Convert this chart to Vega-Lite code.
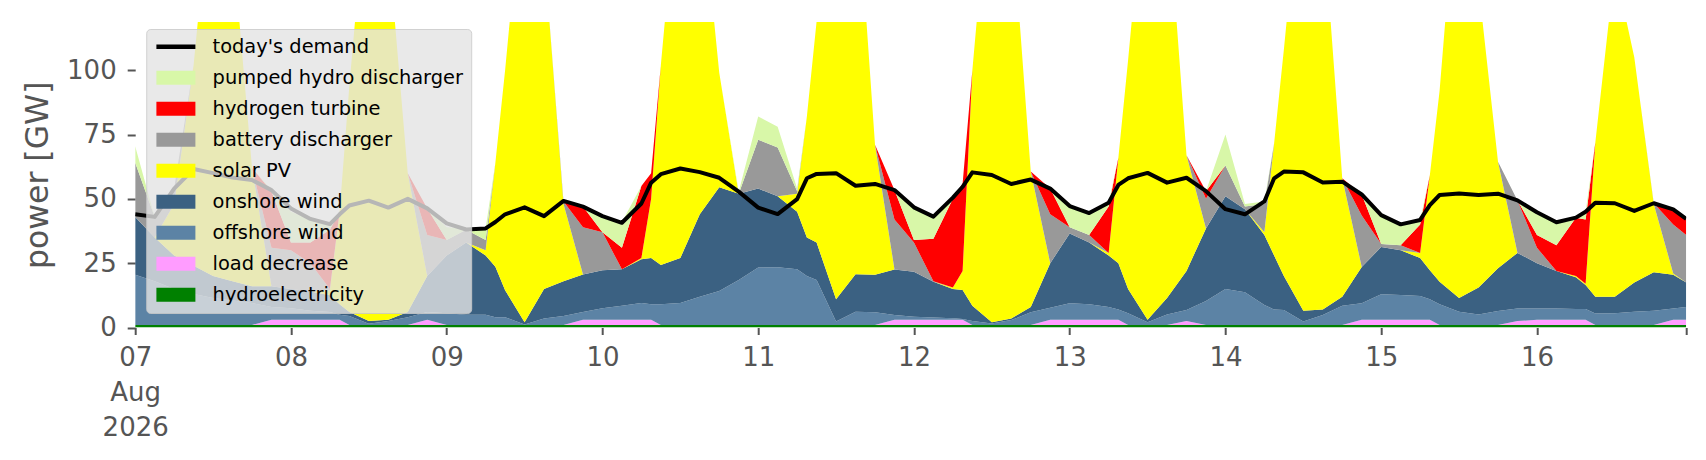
{
  "$schema": "https://vega.github.io/schema/vega-lite/v6.json",
  "description": "Power supply stack vs today's demand, 7-16 Aug 2026",
  "width": 1551,
  "height": 305.5,
  "autosize": "none",
  "padding": {"left": 135.2, "top": 22, "right": 19.8, "bottom": 132.5},
  "background": "white",
  "config": {"view": {"stroke": null}, "font": "DejaVu Sans"},
  "data": {"values": [
    {"t":"2026-08-07T00:00","hydroelectricity":1,"load decrease":0,"offshore wind":19.5,"onshore wind":22.5,"solar PV":0,"battery discharger":21,"hydrogen turbine":0,"pumped hydro discharger":6.5,"demand":44},
    {"t":"2026-08-07T03:00","hydroelectricity":1,"load decrease":0,"offshore wind":17,"onshore wind":17,"solar PV":0,"battery discharger":8,"hydrogen turbine":0,"pumped hydro discharger":0,"demand":43},
    {"t":"2026-08-07T06:00","hydroelectricity":1,"load decrease":0,"offshore wind":14,"onshore wind":13,"solar PV":20,"battery discharger":6,"hydrogen turbine":0,"pumped hydro discharger":0,"demand":54},
    {"t":"2026-08-07T09:00","hydroelectricity":1,"load decrease":0,"offshore wind":12,"onshore wind":11,"solar PV":78,"battery discharger":0,"hydrogen turbine":0,"pumped hydro discharger":0,"demand":61.6},
    {"t":"2026-08-07T12:00","hydroelectricity":1,"load decrease":0,"offshore wind":10.5,"onshore wind":8.5,"solar PV":160,"battery discharger":0,"hydrogen turbine":0,"pumped hydro discharger":0,"demand":60},
    {"t":"2026-08-07T15:00","hydroelectricity":1,"load decrease":0,"offshore wind":9.5,"onshore wind":7.5,"solar PV":132,"battery discharger":0,"hydrogen turbine":0,"pumped hydro discharger":0,"demand":58.3},
    {"t":"2026-08-07T18:00","hydroelectricity":1,"load decrease":0,"offshore wind":8.5,"onshore wind":6.5,"solar PV":46,"battery discharger":0,"hydrogen turbine":0,"pumped hydro discharger":0,"demand":57.3},
    {"t":"2026-08-07T21:00","hydroelectricity":1,"load decrease":2,"offshore wind":5,"onshore wind":8,"solar PV":0,"battery discharger":15,"hydrogen turbine":22,"pumped hydro discharger":0.4,"demand":53.4},
    {"t":"2026-08-08T00:00","hydroelectricity":1,"load decrease":2,"offshore wind":4.5,"onshore wind":7.5,"solar PV":0,"battery discharger":15,"hydrogen turbine":3,"pumped hydro discharger":12,"demand":46.3},
    {"t":"2026-08-08T03:00","hydroelectricity":1,"load decrease":2,"offshore wind":3.5,"onshore wind":7.5,"solar PV":0,"battery discharger":11,"hydrogen turbine":8,"pumped hydro discharger":9,"demand":42.2},
    {"t":"2026-08-08T06:00","hydroelectricity":1,"load decrease":2,"offshore wind":3,"onshore wind":6.5,"solar PV":2,"battery discharger":0.5,"hydrogen turbine":23,"pumped hydro discharger":2,"demand":40.2},
    {"t":"2026-08-08T07:30","hydroelectricity":1,"load decrease":2,"offshore wind":2,"onshore wind":4,"solar PV":36,"battery discharger":0,"hydrogen turbine":0,"pumped hydro discharger":0,"demand":44},
    {"t":"2026-08-08T09:00","hydroelectricity":1,"load decrease":0,"offshore wind":3.5,"onshore wind":1.5,"solar PV":88,"battery discharger":0,"hydrogen turbine":0,"pumped hydro discharger":0,"demand":47.4},
    {"t":"2026-08-08T12:00","hydroelectricity":1,"load decrease":0,"offshore wind":0.5,"onshore wind":1,"solar PV":177.5,"battery discharger":0,"hydrogen turbine":0,"pumped hydro discharger":0,"demand":49.3},
    {"t":"2026-08-08T15:00","hydroelectricity":1,"load decrease":0,"offshore wind":1.5,"onshore wind":0.5,"solar PV":146,"battery discharger":0,"hydrogen turbine":0,"pumped hydro discharger":0,"demand":46.6},
    {"t":"2026-08-08T18:00","hydroelectricity":1,"load decrease":0,"offshore wind":3,"onshore wind":2,"solar PV":54,"battery discharger":0,"hydrogen turbine":0,"pumped hydro discharger":0,"demand":50},
    {"t":"2026-08-08T21:00","hydroelectricity":1,"load decrease":2,"offshore wind":3,"onshore wind":14,"solar PV":0,"battery discharger":16,"hydrogen turbine":10.3,"pumped hydro discharger":0,"demand":46.3},
    {"t":"2026-08-09T00:00","hydroelectricity":1,"load decrease":0,"offshore wind":4.5,"onshore wind":22.5,"solar PV":0,"battery discharger":6,"hydrogen turbine":0,"pumped hydro discharger":5,"demand":40.5},
    {"t":"2026-08-09T03:00","hydroelectricity":1,"load decrease":0,"offshore wind":4,"onshore wind":28,"solar PV":0,"battery discharger":5,"hydrogen turbine":0,"pumped hydro discharger":0.5,"demand":38.1},
    {"t":"2026-08-09T06:00","hydroelectricity":1,"load decrease":0,"offshore wind":4,"onshore wind":23,"solar PV":2,"battery discharger":4,"hydrogen turbine":0,"pumped hydro discharger":4.5,"demand":38.5},
    {"t":"2026-08-09T07:30","hydroelectricity":1,"load decrease":0,"offshore wind":3,"onshore wind":19.6,"solar PV":40.4,"battery discharger":0,"hydrogen turbine":0,"pumped hydro discharger":0,"demand":41},
    {"t":"2026-08-09T09:00","hydroelectricity":1,"load decrease":0,"offshore wind":3,"onshore wind":10.5,"solar PV":85.5,"battery discharger":0,"hydrogen turbine":0,"pumped hydro discharger":0,"demand":44},
    {"t":"2026-08-09T12:00","hydroelectricity":1,"load decrease":0,"offshore wind":0.2,"onshore wind":0.8,"solar PV":178,"battery discharger":0,"hydrogen turbine":0,"pumped hydro discharger":0,"demand":46.7},
    {"t":"2026-08-09T15:00","hydroelectricity":1,"load decrease":0,"offshore wind":2.5,"onshore wind":11.5,"solar PV":131,"battery discharger":0,"hydrogen turbine":0,"pumped hydro discharger":0,"demand":43.3},
    {"t":"2026-08-09T18:00","hydroelectricity":1,"load decrease":0,"offshore wind":3.5,"onshore wind":13.5,"solar PV":30,"battery discharger":1,"hydrogen turbine":0,"pumped hydro discharger":0,"demand":49.2},
    {"t":"2026-08-09T21:00","hydroelectricity":1,"load decrease":2,"offshore wind":3,"onshore wind":14.6,"solar PV":0,"battery discharger":18.4,"hydrogen turbine":8,"pumped hydro discharger":0,"demand":47},
    {"t":"2026-08-10T00:00","hydroelectricity":1,"load decrease":2,"offshore wind":4.5,"onshore wind":14.8,"solar PV":0,"battery discharger":14.7,"hydrogen turbine":0,"pumped hydro discharger":6.3,"demand":43.3},
    {"t":"2026-08-10T03:00","hydroelectricity":1,"load decrease":2,"offshore wind":5.5,"onshore wind":14.1,"solar PV":0,"battery discharger":0,"hydrogen turbine":8.4,"pumped hydro discharger":10,"demand":40.7},
    {"t":"2026-08-10T06:00","hydroelectricity":1,"load decrease":2,"offshore wind":6.5,"onshore wind":17,"solar PV":0.5,"battery discharger":0,"hydrogen turbine":28,"pumped hydro discharger":0,"demand":48.2},
    {"t":"2026-08-10T07:30","hydroelectricity":1,"load decrease":2,"offshore wind":6,"onshore wind":18,"solar PV":23,"battery discharger":0,"hydrogen turbine":10,"pumped hydro discharger":0,"demand":56.3},
    {"t":"2026-08-10T09:00","hydroelectricity":1,"load decrease":0,"offshore wind":8,"onshore wind":15.3,"solar PV":77.7,"battery discharger":0,"hydrogen turbine":0,"pumped hydro discharger":0,"demand":59.6},
    {"t":"2026-08-10T12:00","hydroelectricity":1,"load decrease":0,"offshore wind":8.5,"onshore wind":17.5,"solar PV":158,"battery discharger":0,"hydrogen turbine":0,"pumped hydro discharger":0,"demand":61.8},
    {"t":"2026-08-10T15:00","hydroelectricity":1,"load decrease":0,"offshore wind":11,"onshore wind":32,"solar PV":131,"battery discharger":0,"hydrogen turbine":0,"pumped hydro discharger":0,"demand":60.4},
    {"t":"2026-08-10T18:00","hydroelectricity":1,"load decrease":0,"offshore wind":13.2,"onshore wind":40.3,"solar PV":44.5,"battery discharger":0,"hydrogen turbine":0,"pumped hydro discharger":0,"demand":58.2},
    {"t":"2026-08-10T21:00","hydroelectricity":1,"load decrease":0,"offshore wind":17.5,"onshore wind":33.5,"solar PV":0,"battery discharger":0,"hydrogen turbine":0,"pumped hydro discharger":0.8,"demand":52.8},
    {"t":"2026-08-11T00:00","hydroelectricity":1,"load decrease":0,"offshore wind":22.3,"onshore wind":30.7,"solar PV":0,"battery discharger":19,"hydrogen turbine":0,"pumped hydro discharger":9,"demand":46.6},
    {"t":"2026-08-11T03:00","hydroelectricity":1,"load decrease":0,"offshore wind":22.4,"onshore wind":27.6,"solar PV":0,"battery discharger":19,"hydrogen turbine":0,"pumped hydro discharger":8,"demand":44.1},
    {"t":"2026-08-11T06:00","hydroelectricity":1,"load decrease":0,"offshore wind":21.6,"onshore wind":22.4,"solar PV":7,"battery discharger":1,"hydrogen turbine":0,"pumped hydro discharger":1,"demand":49.9},
    {"t":"2026-08-11T07:30","hydroelectricity":1,"load decrease":0,"offshore wind":19,"onshore wind":15,"solar PV":47,"battery discharger":0,"hydrogen turbine":0,"pumped hydro discharger":0,"demand":58},
    {"t":"2026-08-11T09:00","hydroelectricity":1,"load decrease":0,"offshore wind":17.5,"onshore wind":14.5,"solar PV":86,"battery discharger":0,"hydrogen turbine":0,"pumped hydro discharger":0,"demand":59.7},
    {"t":"2026-08-11T12:00","hydroelectricity":1,"load decrease":0,"offshore wind":1.3,"onshore wind":8.7,"solar PV":174,"battery discharger":0,"hydrogen turbine":0,"pumped hydro discharger":0,"demand":60},
    {"t":"2026-08-11T15:00","hydroelectricity":1,"load decrease":0,"offshore wind":5.1,"onshore wind":14.6,"solar PV":159.3,"battery discharger":0,"hydrogen turbine":0,"pumped hydro discharger":0,"demand":55.1},
    {"t":"2026-08-11T18:00","hydroelectricity":1,"load decrease":0,"offshore wind":4.9,"onshore wind":14.6,"solar PV":50.5,"battery discharger":0,"hydrogen turbine":0,"pumped hydro discharger":0,"demand":55.8},
    {"t":"2026-08-11T21:00","hydroelectricity":1,"load decrease":2,"offshore wind":1.9,"onshore wind":17.6,"solar PV":0,"battery discharger":19.5,"hydrogen turbine":11.4,"pumped hydro discharger":0,"demand":53.4},
    {"t":"2026-08-12T00:00","hydroelectricity":1,"load decrease":2,"offshore wind":1.2,"onshore wind":17.5,"solar PV":0,"battery discharger":11.3,"hydrogen turbine":1,"pumped hydro discharger":12.5,"demand":46.7},
    {"t":"2026-08-12T03:00","hydroelectricity":1,"load decrease":2,"offshore wind":0.9,"onshore wind":13.9,"solar PV":0,"battery discharger":0.2,"hydrogen turbine":16.5,"pumped hydro discharger":8.5,"demand":43.1},
    {"t":"2026-08-12T06:00","hydroelectricity":1,"load decrease":2,"offshore wind":0.6,"onshore wind":11.4,"solar PV":0.5,"battery discharger":0,"hydrogen turbine":34.5,"pumped hydro discharger":0,"demand":50.5},
    {"t":"2026-08-12T07:30","hydroelectricity":1,"load decrease":2,"offshore wind":0.3,"onshore wind":11.3,"solar PV":7.4,"battery discharger":0,"hydrogen turbine":34,"pumped hydro discharger":0,"demand":54.7},
    {"t":"2026-08-12T09:00","hydroelectricity":1,"load decrease":0,"offshore wind":1.5,"onshore wind":6,"solar PV":91.5,"battery discharger":0,"hydrogen turbine":0,"pumped hydro discharger":0,"demand":60.3},
    {"t":"2026-08-12T12:00","hydroelectricity":1,"load decrease":0,"offshore wind":0.6,"onshore wind":0.4,"solar PV":183,"battery discharger":0,"hydrogen turbine":0,"pumped hydro discharger":0,"demand":59.3},
    {"t":"2026-08-12T15:00","hydroelectricity":1,"load decrease":0,"offshore wind":1.9,"onshore wind":0.6,"solar PV":159.5,"battery discharger":0,"hydrogen turbine":0,"pumped hydro discharger":0,"demand":55.8},
    {"t":"2026-08-12T18:00","hydroelectricity":1,"load decrease":0,"offshore wind":4.9,"onshore wind":2.1,"solar PV":52.6,"battery discharger":0,"hydrogen turbine":0,"pumped hydro discharger":0,"demand":57.5},
    {"t":"2026-08-12T21:00","hydroelectricity":1,"load decrease":2,"offshore wind":4.7,"onshore wind":17.3,"solar PV":0,"battery discharger":19,"hydrogen turbine":10,"pumped hydro discharger":0,"demand":54},
    {"t":"2026-08-13T00:00","hydroelectricity":1,"load decrease":2,"offshore wind":6.4,"onshore wind":27.1,"solar PV":0,"battery discharger":2.5,"hydrogen turbine":0,"pumped hydro discharger":7.5,"demand":47.2},
    {"t":"2026-08-13T03:00","hydroelectricity":1,"load decrease":2,"offshore wind":6,"onshore wind":24,"solar PV":0,"battery discharger":3,"hydrogen turbine":0,"pumped hydro discharger":8.5,"demand":44.5},
    {"t":"2026-08-13T06:00","hydroelectricity":1,"load decrease":2,"offshore wind":5,"onshore wind":20,"solar PV":1,"battery discharger":0,"hydrogen turbine":18,"pumped hydro discharger":1.5,"demand":48.5},
    {"t":"2026-08-13T07:30","hydroelectricity":1,"load decrease":2,"offshore wind":4,"onshore wind":18,"solar PV":41,"battery discharger":0,"hydrogen turbine":0,"pumped hydro discharger":0,"demand":55.4},
    {"t":"2026-08-13T09:00","hydroelectricity":1,"load decrease":0,"offshore wind":4.5,"onshore wind":9.5,"solar PV":89,"battery discharger":0,"hydrogen turbine":0,"pumped hydro discharger":0,"demand":58},
    {"t":"2026-08-13T12:00","hydroelectricity":1,"load decrease":0,"offshore wind":1,"onshore wind":1,"solar PV":182,"battery discharger":0,"hydrogen turbine":0,"pumped hydro discharger":0,"demand":60.1},
    {"t":"2026-08-13T15:00","hydroelectricity":1,"load decrease":0,"offshore wind":4.1,"onshore wind":6.4,"solar PV":157.5,"battery discharger":0,"hydrogen turbine":0,"pumped hydro discharger":0,"demand":56.3},
    {"t":"2026-08-13T18:00","hydroelectricity":1,"load decrease":1.5,"offshore wind":4.3,"onshore wind":15.2,"solar PV":45,"battery discharger":0,"hydrogen turbine":0,"pumped hydro discharger":0,"demand":58.2},
    {"t":"2026-08-13T21:00","hydroelectricity":1,"load decrease":0,"offshore wind":9.3,"onshore wind":28.2,"solar PV":0,"battery discharger":11.5,"hydrogen turbine":3,"pumped hydro discharger":0,"demand":53},
    {"t":"2026-08-14T00:00","hydroelectricity":1,"load decrease":0,"offshore wind":14,"onshore wind":36,"solar PV":0,"battery discharger":12,"hydrogen turbine":0,"pumped hydro discharger":12,"demand":46},
    {"t":"2026-08-14T03:00","hydroelectricity":1,"load decrease":0,"offshore wind":12.7,"onshore wind":32.3,"solar PV":0,"battery discharger":1,"hydrogen turbine":0,"pumped hydro discharger":1,"demand":44},
    {"t":"2026-08-14T06:00","hydroelectricity":1,"load decrease":0,"offshore wind":7.7,"onshore wind":27.3,"solar PV":1,"battery discharger":11,"hydrogen turbine":0,"pumped hydro discharger":1,"demand":49},
    {"t":"2026-08-14T07:30","hydroelectricity":1,"load decrease":0,"offshore wind":6,"onshore wind":21,"solar PV":43.6,"battery discharger":0,"hydrogen turbine":0,"pumped hydro discharger":0,"demand":58},
    {"t":"2026-08-14T09:00","hydroelectricity":1,"load decrease":0,"offshore wind":5.8,"onshore wind":13.2,"solar PV":88,"battery discharger":0,"hydrogen turbine":0,"pumped hydro discharger":0,"demand":60.6},
    {"t":"2026-08-14T12:00","hydroelectricity":1,"load decrease":0,"offshore wind":1.3,"onshore wind":4.2,"solar PV":178.5,"battery discharger":0,"hydrogen turbine":0,"pumped hydro discharger":0,"demand":60.3},
    {"t":"2026-08-14T15:00","hydroelectricity":1,"load decrease":0,"offshore wind":3.9,"onshore wind":2.1,"solar PV":153,"battery discharger":0,"hydrogen turbine":0,"pumped hydro discharger":0,"demand":56.4},
    {"t":"2026-08-14T18:00","hydroelectricity":1,"load decrease":0,"offshore wind":7.5,"onshore wind":3.5,"solar PV":46,"battery discharger":0,"hydrogen turbine":0,"pumped hydro discharger":0,"demand":56.7},
    {"t":"2026-08-14T21:00","hydroelectricity":1,"load decrease":2,"offshore wind":6.4,"onshore wind":14.1,"solar PV":0,"battery discharger":20,"hydrogen turbine":8.2,"pumped hydro discharger":0,"demand":51.7},
    {"t":"2026-08-15T00:00","hydroelectricity":1,"load decrease":2,"offshore wind":9.9,"onshore wind":18.4,"solar PV":0,"battery discharger":1.2,"hydrogen turbine":0,"pumped hydro discharger":11.2,"demand":43.7},
    {"t":"2026-08-15T03:00","hydroelectricity":1,"load decrease":2,"offshore wind":9.6,"onshore wind":17.4,"solar PV":0,"battery discharger":2,"hydrogen turbine":0,"pumped hydro discharger":8.1,"demand":40.1},
    {"t":"2026-08-15T06:00","hydroelectricity":1,"load decrease":2,"offshore wind":9.2,"onshore wind":14.8,"solar PV":2,"battery discharger":0,"hydrogen turbine":11,"pumped hydro discharger":1.8,"demand":41.8},
    {"t":"2026-08-15T07:30","hydroelectricity":1,"load decrease":2,"offshore wind":8,"onshore wind":11.3,"solar PV":37,"battery discharger":0,"hydrogen turbine":0,"pumped hydro discharger":0,"demand":47.6},
    {"t":"2026-08-15T09:00","hydroelectricity":1,"load decrease":0,"offshore wind":8,"onshore wind":8.8,"solar PV":74.2,"battery discharger":0,"hydrogen turbine":0,"pumped hydro discharger":0,"demand":51.5},
    {"t":"2026-08-15T12:00","hydroelectricity":1,"load decrease":0,"offshore wind":5.1,"onshore wind":5.4,"solar PV":173.5,"battery discharger":0,"hydrogen turbine":0,"pumped hydro discharger":0,"demand":52.1},
    {"t":"2026-08-15T15:00","hydroelectricity":1,"load decrease":0,"offshore wind":4.1,"onshore wind":10.4,"solar PV":117.5,"battery discharger":0,"hydrogen turbine":0,"pumped hydro discharger":0,"demand":51.5},
    {"t":"2026-08-15T18:00","hydroelectricity":1,"load decrease":0,"offshore wind":5.4,"onshore wind":16.6,"solar PV":41.4,"battery discharger":0,"hydrogen turbine":0,"pumped hydro discharger":0,"demand":52},
    {"t":"2026-08-15T21:00","hydroelectricity":1,"load decrease":1.5,"offshore wind":4.9,"onshore wind":21.6,"solar PV":0,"battery discharger":20.4,"hydrogen turbine":0,"pumped hydro discharger":0,"demand":49.4},
    {"t":"2026-08-16T00:00","hydroelectricity":1,"load decrease":2,"offshore wind":4.4,"onshore wind":17.6,"solar PV":0,"battery discharger":6,"hydrogen turbine":5,"pumped hydro discharger":8.8,"demand":44.8},
    {"t":"2026-08-16T03:00","hydroelectricity":1,"load decrease":2,"offshore wind":4.4,"onshore wind":14.6,"solar PV":0,"battery discharger":0,"hydrogen turbine":10,"pumped hydro discharger":8.9,"demand":40.9},
    {"t":"2026-08-16T06:00","hydroelectricity":1,"load decrease":2,"offshore wind":4.2,"onshore wind":12.3,"solar PV":0.5,"battery discharger":0,"hydrogen turbine":22.7,"pumped hydro discharger":0,"demand":42.7},
    {"t":"2026-08-16T07:30","hydroelectricity":1,"load decrease":2,"offshore wind":4.2,"onshore wind":9.3,"solar PV":0.5,"battery discharger":0,"hydrogen turbine":25,"pumped hydro discharger":3,"demand":45},
    {"t":"2026-08-16T09:00","hydroelectricity":1,"load decrease":0,"offshore wind":4.4,"onshore wind":6.6,"solar PV":60,"battery discharger":0,"hydrogen turbine":0,"pumped hydro discharger":0,"demand":48.5},
    {"t":"2026-08-16T12:00","hydroelectricity":1,"load decrease":0,"offshore wind":4.5,"onshore wind":6.5,"solar PV":128,"battery discharger":0,"hydrogen turbine":0,"pumped hydro discharger":0,"demand":48.3},
    {"t":"2026-08-16T15:00","hydroelectricity":1,"load decrease":0,"offshore wind":5.1,"onshore wind":11.4,"solar PV":87.5,"battery discharger":0,"hydrogen turbine":0,"pumped hydro discharger":0,"demand":45.3},
    {"t":"2026-08-16T18:00","hydroelectricity":1,"load decrease":0,"offshore wind":5.5,"onshore wind":15,"solar PV":26.5,"battery discharger":0.3,"hydrogen turbine":0,"pumped hydro discharger":0,"demand":48.3},
    {"t":"2026-08-16T21:00","hydroelectricity":1,"load decrease":2,"offshore wind":4.4,"onshore wind":13.1,"solar PV":0.5,"battery discharger":19,"hydrogen turbine":6,"pumped hydro discharger":0,"demand":45.9},
    {"t":"2026-08-16T23:00","hydroelectricity":1,"load decrease":2,"offshore wind":5,"onshore wind":9.5,"solar PV":0,"battery discharger":18.5,"hydrogen turbine":6.2,"pumped hydro discharger":0,"demand":42.2}
  ]},
  "layer": [
    {
      "transform": [
        {"fold": ["hydroelectricity", "load decrease", "offshore wind", "onshore wind", "solar PV", "battery discharger", "hydrogen turbine", "pumped hydro discharger"], "as": ["source", "power"]},
        {"lookup": "source", "from": {"data": {"values": [
          {"source": "hydroelectricity", "rank": 1},
          {"source": "load decrease", "rank": 2},
          {"source": "offshore wind", "rank": 3},
          {"source": "onshore wind", "rank": 4},
          {"source": "solar PV", "rank": 5},
          {"source": "battery discharger", "rank": 6},
          {"source": "hydrogen turbine", "rank": 7},
          {"source": "pumped hydro discharger", "rank": 8}
        ]}, "key": "source", "fields": ["rank"]}}
      ],
      "mark": {"type": "area", "clip": true, "interpolate": "linear"},
      "encoding": {
        "x": {
          "field": "t", "type": "temporal",
          "scale": {"domain": [{"year": 2026, "month": 8, "date": 7}, {"year": 2026, "month": 8, "date": 16, "hours": 23}], "nice": false},
          "axis": {
            "title": null,
            "values": [
              {"year": 2026, "month": 8, "date": 7}, {"year": 2026, "month": 8, "date": 8},
              {"year": 2026, "month": 8, "date": 9}, {"year": 2026, "month": 8, "date": 10},
              {"year": 2026, "month": 8, "date": 11}, {"year": 2026, "month": 8, "date": 12},
              {"year": 2026, "month": 8, "date": 13}, {"year": 2026, "month": 8, "date": 14},
              {"year": 2026, "month": 8, "date": 15}, {"year": 2026, "month": 8, "date": 16},
              {"year": 2026, "month": 8, "date": 16, "hours": 23}
            ],
            "labelExpr": "hours(datum.value) != 0 ? '' : (date(datum.value) == 7 ? ['07', 'Aug', '2026'] : timeFormat(datum.value, '%d'))",
            "domain": false, "grid": false,
            "tickSize": 7, "tickWidth": 2, "tickColor": "#555555",
            "labelFont": "DejaVu Sans", "labelFontSize": 26, "labelColor": "#555555",
            "labelPadding": 10, "labelLineHeight": 35,
            "labelFlush": false, "labelOverlap": false, "labelBound": false
          }
        },
        "y": {
          "field": "power", "type": "quantitative", "stack": "zero",
          "scale": {"domain": [0, 118.75], "nice": false},
          "axis": {
            "title": "power [GW]", "values": [0, 25, 50, 75, 100],
            "titleFont": "DejaVu Sans", "titleFontSize": 31.5, "titleFontWeight": "normal",
            "titleColor": "#555555", "titlePadding": 12,
            "domain": false, "grid": false,
            "tickSize": 8, "tickWidth": 2, "tickColor": "#555555",
            "labelFont": "DejaVu Sans", "labelFontSize": 26, "labelColor": "#555555",
            "labelPadding": 11, "labelFlush": false
          }
        },
        "color": {
          "field": "source", "type": "nominal",
          "scale": {
            "domain": ["today's demand", "pumped hydro discharger", "hydrogen turbine", "battery discharger", "solar PV", "onshore wind", "offshore wind", "load decrease", "hydroelectricity"],
            "range": ["#000000", "#d8f7a8", "#ff0000", "#999999", "#ffff00", "#3b6182", "#5c83a5", "#ff9cff", "#008000"]
          },
          "legend": {
            "orient": "none", "legendX": 11, "legendY": 7,
            "title": null,
            "fillColor": "rgba(228,228,228,0.8)",
            "strokeColor": "rgba(200,200,200,0.8)",
            "cornerRadius": 4, "padding": 8,
            "labelFont": "DejaVu Sans", "labelFontSize": 19.4, "labelColor": "#000000",
            "labelOffset": 39, "labelLimit": 400, "rowPadding": 10,
            "symbolSize": 225, "symbolStrokeWidth": 0, "symbolOpacity": 1,
            "symbolType": "M-1,-0.93L4.2,-0.93L4.2,0.93L-1,0.93Z",
            "encode": {
              "symbols": {"update": {"shape": {"signal": "datum.value == \"today's demand\" ? 'M-1,-0.31L4.2,-0.31L4.2,0.31L-1,0.31Z' : 'M-1,-0.93L4.2,-0.93L4.2,0.93L-1,0.93Z'"}}}
            }
          }
        },
        "order": {"field": "rank", "type": "quantitative"}
      }
    },
    {
      "mark": {"type": "line", "color": "#000000", "strokeWidth": 4, "strokeJoin": "round", "clip": true},
      "encoding": {
        "x": {"field": "t", "type": "temporal"},
        "y": {"field": "demand", "type": "quantitative"}
      }
    }
  ]
}
